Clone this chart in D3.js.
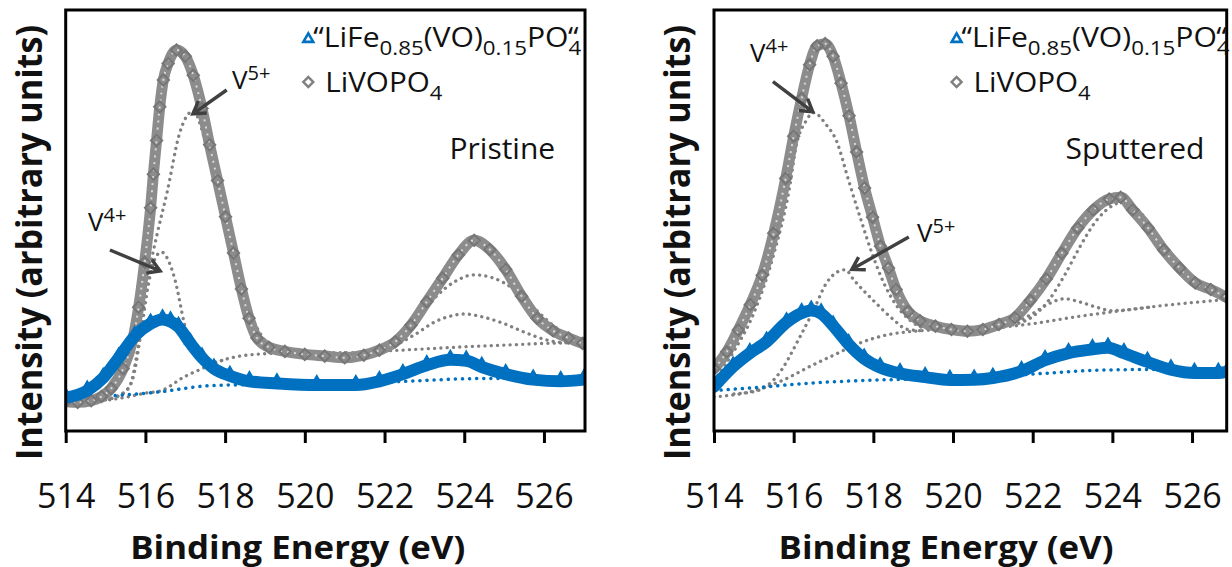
<!DOCTYPE html>
<html><head><meta charset="utf-8">
<script src="https://cdn.jsdelivr.net/npm/d3@7"></script>
<style>
body{margin:0;background:#fff}
svg{display:block}
text{font-family:"Open Sans","Noto Sans",sans-serif;fill:#111}
</style>
</head><body>
<svg id="chart" width="1232" height="567"></svg>
<script>
// ---------- data (binding energy eV, intensity arbitrary units) ----------
const xTicks = [514, 516, 518, 520, 522, 524, 526];
const xTitle = "Binding Energy (eV)";
const yTitle = "Intensity (arbitrary units)";

// Pristine panel
const pristineLiVOPO4 = [[514.0,7.0],[514.3,6.8],[514.64,7.2],[514.9,8.2],[515.14,10.1],[515.44,14.8],[515.68,21.6],[515.83,29.4],[515.98,40],[516.13,53],[516.2,61],[516.28,69],[516.36,77],[516.45,83.4],[516.57,87.3],[516.78,90.5],[517.0,89],[517.2,84.5],[517.42,76.6],[517.61,68.0],[517.81,59.5],[518.01,50.9],[518.21,42.3],[518.41,33.7],[518.6,26.8],[518.8,22.1],[519.1,19.9],[519.5,18.9],[520.0,18.2],[520.5,17.8],[521.0,17.4],[521.48,18.0],[521.87,19.2],[522.27,21.2],[522.66,25.1],[523.06,30.7],[523.46,36.3],[523.85,41.8],[524.25,45.3],[524.64,43.1],[525.04,38.4],[525.44,32.0],[525.83,26.8],[526.23,23.8],[526.62,22.1],[526.97,20.8]];
const pristineLiFeVO = [[514.0,7.9],[514.54,9.6],[514.94,12.6],[515.33,17.4],[515.73,22.5],[516.13,25.5],[516.43,26.5],[516.63,26.0],[516.83,24.7],[517.13,20.8],[517.42,17.4],[517.72,14.8],[518.12,13.1],[518.61,11.8],[519.3,11.3],[520.3,10.9],[521.28,10.9],[521.87,11.8],[522.46,13.5],[523.06,15.6],[523.65,16.9],[524.05,16.7],[524.44,15.2],[525.04,13.5],[525.73,12.2],[526.42,11.8],[527.0,12.2]];
const pristineBgGrey = [[514.0,7.0],[514.3,6.7],[515.0,7.3],[515.5,8.0],[516.0,9.0],[516.37,9.5],[517.0,13.0],[517.37,14.6],[518.0,17.0],[518.9,18.3],[520.0,18.6],[521.1,18.6],[522.0,19.0],[523.0,19.5],[524.0,20.0],[525.0,20.4],[526.0,20.8],[527.0,21.0]];
const pristineBgBlue = [[514.0,7.3],[515.1,8.3],[516.37,9.3],[517.5,10.7],[518.5,11.0],[520.0,11.2],[522.0,11.6],[523.0,12.0],[524.0,12.4],[525.0,12.5],[527.0,12.6]];
const pristineV4 = [[515.0,7.4],[515.5,9.5],[515.7,13],[515.9,24],[516.06,34],[516.2,40],[516.4,42.5],[516.6,40],[516.74,36],[516.99,25],[517.2,19],[517.5,16],[518.0,17.0]];
const pristineV5 = [[515.0,7.5],[515.3,8.2],[515.6,10.5],[515.85,22],[516.06,36],[516.3,47],[516.54,56.5],[516.86,70.8],[517.2,76],[517.5,69],[517.8,59],[518.1,47],[518.4,34],[518.7,26.5],[519.0,21.5],[519.4,19.2],[520.0,18.6]];
const pristine2pA = [[521.5,18.8],[522.27,20.6],[522.76,25.6],[523.26,31.6],[523.75,35.4],[524.25,37.1],[524.74,36.3],[525.24,33.7],[525.73,29.4],[526.23,25.1],[526.62,22.5],[526.97,21.2]];
const pristine2pB = [[521.5,18.8],[522.0,19.4],[522.76,22.9],[523.26,25.9],[523.75,27.5],[524.0,27.8],[524.5,27.0],[525.0,25.5],[525.5,23.5],[526.0,21.8],[526.5,21.0],[527.0,21.0]];

// Sputtered panel
const sputteredLiVOPO4 = [[514.0,14.8],[514.32,18.8],[514.61,24],[514.91,30],[515.21,37],[515.5,47],[515.8,60],[516.0,70],[516.2,79],[516.4,87],[516.59,91.5],[516.79,92],[516.99,89],[517.19,82.6],[517.39,74.9],[517.58,66.3],[517.78,57.7],[517.98,50.8],[518.18,43.9],[518.38,38.7],[518.57,33.6],[518.87,28.4],[519.17,26.2],[519.56,24.9],[519.96,24.1],[520.36,23.7],[520.75,24.1],[521.15,25.3],[521.55,26.9],[521.94,31.0],[522.34,36.1],[522.73,42.2],[523.13,48.2],[523.52,52.5],[523.92,55.1],[524.21,55.5],[524.51,52.5],[524.9,48.2],[525.29,43.0],[525.69,38.7],[526.08,35.2],[526.47,33.6],[526.86,31.8]];
const sputteredLiFeVO = [[514.0,10.5],[514.48,15.3],[514.9,18.5],[515.32,21.2],[515.82,25.8],[516.2,28.0],[516.44,28.6],[516.69,27.9],[516.99,25.0],[517.38,20.6],[517.77,17.2],[518.17,15.1],[518.67,13.7],[519.3,12.8],[519.92,12.1],[520.53,12.2],[521.0,12.6],[521.72,14.2],[522.31,16.8],[522.9,18.5],[523.5,19.4],[523.89,19.8],[524.29,18.5],[524.88,16.4],[525.47,14.6],[526.06,13.8],[526.66,13.8],[526.9,14.2]];
const sputteredBgGrey = [[514.0,8.1],[514.9,9.3],[515.74,12.1],[516.4,15.3],[517.0,18.0],[517.66,20.9],[518.33,22.8],[519.16,23.8],[520.2,24.2],[521.17,24.6],[522.0,25.5],[523.0,27.0],[524.0,28.3],[525.0,29.5],[526.0,30.5],[527.0,31.3]];
const sputteredBgBlue = [[514.0,9.6],[515.3,10.5],[516.15,11.2],[518.08,12.1],[520.0,12.5],[522.3,13.7],[523.5,14.4],[524.8,14.6],[526.0,14.4],[527.0,14.3]];
const sputteredV4 = [[514.0,12],[514.5,19],[515.0,28],[515.5,42],[515.9,58],[516.07,68],[516.3,73.5],[516.5,75.6],[516.82,72.7],[517.07,69],[517.38,59.5],[517.67,50.7],[517.97,42.1],[518.26,35.2],[518.56,30.1],[518.96,26],[519.35,24.3],[520.0,24.0]];
const sputteredV5 = [[514.5,8.8],[515.07,9.5],[515.57,12.9],[516.16,22.4],[516.5,28.7],[516.82,35.1],[517.1,37.8],[517.3,38.3],[517.5,36],[518.0,31],[518.5,26.5],[518.83,24.2],[519.2,23.8]];
const sputtered2pA = [[521.5,25.2],[522.0,27.2],[522.4,31],[522.8,37],[523.2,44],[523.6,50],[524.0,53.5],[524.3,54.5],[524.7,52],[525.1,46.5],[525.5,41.5],[526.0,36.5],[526.5,33.5],[527.0,32]];
const sputtered2pB = [[521.0,24.5],[521.6,25.9],[522.0,27.9],[522.4,30.2],[522.8,31.4],[523.2,30.6],[523.6,29.4],[524.0,28.6],[524.5,28.9],[525.0,29.5]];

// ---------- styles / layout ----------
const GREY = "#808080", BLUE = "#0070c0", ARROW = "#404040";
const TOP = 10, BOTTOM = 431;

const panels = [
  { left: 65.7, right: 585, xMax: 527.03, label: "Pristine", labelX: 449.5,
    grey: pristineLiVOPO4, blue: pristineLiFeVO,
    greyDots: [pristineBgGrey, pristineV4, pristineV5, pristine2pA, pristine2pB],
    blueDots: [pristineBgBlue],
    notes: [
      { sup: "5+", tx: 232, ty: 88.6, from: [518.04, 81], to: [517.19, 75.3] },
      { sup: "4+", tx: 88, ty: 231, from: [515.11, 43], to: [516.37, 38] }
    ] },
  { left: 714, right: 1226.7, xMax: 526.87, label: "Sputtered", labelX: 1065.5,
    grey: sputteredLiVOPO4, blue: sputteredLiFeVO,
    greyDots: [sputteredBgGrey, sputteredV4, sputteredV5, sputtered2pA, sputtered2pB],
    blueDots: [sputteredBgBlue],
    notes: [
      { sup: "4+", tx: 750, ty: 61.7, from: [515.48, 83], to: [516.48, 75.8] },
      { sup: "5+", tx: 917, ty: 242, from: [518.89, 46.1], to: [517.46, 38.4] }
    ] }
];

const svg = d3.select("#chart");
const defs = svg.append("defs");

panels.forEach((p, i) => {
  const x = d3.scaleLinear().domain([514, p.xMax]).range([p.left, p.right]);
  const y = d3.scaleLinear().domain([0, 100]).range([BOTTOM, TOP]);
  const g = svg.append("g");
  const clipId = "clip" + i;
  defs.append("clipPath").attr("id", clipId).append("rect")
    .attr("x", p.left).attr("y", TOP).attr("width", p.right - p.left).attr("height", BOTTOM - TOP);

  const line = d3.line().x(d => x(d[0])).y(d => y(d[1])).curve(d3.curveMonotoneX);
  const plot = g.append("g").attr("clip-path", `url(#${clipId})`);

  // dotted fit components
  p.greyDots.forEach(s => plot.append("path").attr("d", line(s)).attr("fill", "none")
    .attr("stroke", GREY).attr("stroke-width", 3.3).attr("stroke-linecap", "round")
    .attr("stroke-dasharray", "0.1 6.2"));
  p.blueDots.forEach(s => plot.append("path").attr("d", line(s)).attr("fill", "none")
    .attr("stroke", BLUE).attr("stroke-width", 3.5).attr("stroke-linecap", "round")
    .attr("stroke-dasharray", "0.1 7"));

  // grey LiVOPO4 series: dense hollow diamonds
  plot.append("path").attr("d", line(p.grey)).attr("fill", "none")
    .attr("stroke", "#8c8c8c").attr("stroke-width", 11).attr("stroke-linejoin", "round").attr("stroke-linecap", "round");
  plot.append("path").attr("d", line(p.grey)).attr("fill", "none")
    .attr("stroke", "#d8d8d8").attr("stroke-width", 2).attr("stroke-dasharray", "2 5");
  const diamond = d3.symbol().type(d3.symbolSquare).size(64);
  plot.selectAll(null).data(p.grey).join("path")
    .attr("d", diamond()).attr("transform", d => `translate(${x(d[0])},${y(d[1])}) rotate(45)`)
    .attr("fill", "none").attr("stroke", "#767676").attr("stroke-width", 2);

  // blue series: dense hollow triangles
  plot.append("path").attr("d", line(p.blue)).attr("fill", "none")
    .attr("stroke", BLUE).attr("stroke-width", 12).attr("stroke-linejoin", "round").attr("stroke-linecap", "round");
  const tri = d3.symbol().type(d3.symbolTriangle).size(50);
  plot.selectAll(null).data(p.blue).join("path")
    .attr("d", tri()).attr("transform", d => `translate(${x(d[0])},${y(d[1]) - 3})`)
    .attr("fill", BLUE).attr("stroke", BLUE).attr("stroke-width", 2);

  // frame
  g.append("rect").attr("x", p.left).attr("y", TOP).attr("width", p.right - p.left).attr("height", BOTTOM - TOP)
    .attr("fill", "none").attr("stroke", "#000").attr("stroke-width", 3);

  // x axis ticks & labels via d3 axis
  const ax = g.append("g").attr("transform", `translate(0,${BOTTOM})`)
    .call(d3.axisBottom(x).tickValues(xTicks).tickSize(12).tickPadding(38).tickFormat(d3.format("d")));
  ax.select(".domain").remove();
  ax.selectAll(".tick line").attr("stroke", "#000").attr("stroke-width", 3);
  ax.selectAll(".tick text").attr("font-size", 34).attr("fill", "#111")
    .attr("font-family", "'Open Sans', sans-serif").attr("dy", 0).attr("y", 76.7);

  // axis titles
  g.append("text").attr("x", (p.left + 232)).attr("y", 559)
    .attr("text-anchor", "middle").attr("font-weight", 700).attr("font-size", 32)
    .attr("textLength", 335).attr("lengthAdjust", "spacingAndGlyphs").text(xTitle);
  g.append("text").attr("transform", `translate(${p.left - 24},242.5) rotate(-90)`)
    .attr("text-anchor", "middle").attr("font-weight", 700).attr("font-size", 36)
    .attr("textLength", 435).attr("lengthAdjust", "spacingAndGlyphs").text(yTitle);

  // panel label
  g.append("text").attr("x", p.labelX).attr("y", 159).attr("font-size", 30).text(p.label);

  // annotations
  p.notes.forEach(n => {
    const t = g.append("text").attr("x", n.tx).attr("y", n.ty).attr("font-size", 26);
    t.append("tspan").text("V");
    t.append("tspan").attr("font-size", 20).attr("dy", -9).text(n.sup);
    const x1 = x(n.from[0]), y1 = y(n.from[1]), x2 = x(n.to[0]), y2 = y(n.to[1]);
    const ang = Math.atan2(y2 - y1, x2 - x1), L = 14, a = 0.55;
    g.append("path")
      .attr("d", `M${x1},${y1}L${x2},${y2}M${x2 - L * Math.cos(ang - a)},${y2 - L * Math.sin(ang - a)}L${x2},${y2}L${x2 - L * Math.cos(ang + a)},${y2 - L * Math.sin(ang + a)}`)
      .attr("fill", "none").attr("stroke", ARROW).attr("stroke-width", 3.4).attr("stroke-linejoin", "miter");
  });

  // legend
  const lx = p.left + 242.6;
  g.append("path").attr("d", d3.symbol().type(d3.symbolTriangle).size(42)())
    .attr("transform", `translate(${lx},${39})`).attr("fill", "#fff").attr("stroke", BLUE).attr("stroke-width", 2.6);
  g.append("path").attr("d", d3.symbol().type(d3.symbolSquare).size(50)())
    .attr("transform", `translate(${lx},${82}) rotate(45)`).attr("fill", "#fff").attr("stroke", GREY).attr("stroke-width", 2.4);
  const t1 = g.append("text").attr("x", lx + 5).attr("y", 46.7).attr("font-size", 27)
    .attr("textLength", 268).attr("lengthAdjust", "spacingAndGlyphs");
  t1.append("tspan").text("\u201CLiFe");
  t1.append("tspan").attr("font-size", 20).attr("dy", 8).text("0.85");
  t1.append("tspan").attr("dy", -8).text("(VO)");
  t1.append("tspan").attr("font-size", 20).attr("dy", 8).text("0.15");
  t1.append("tspan").attr("dy", -8).text("PO");
  t1.append("tspan").attr("font-size", 20).attr("dy", 8).text("4");
  t1.append("tspan").attr("dy", -8).attr("dx", -12).text("\u201C");
  const t2 = g.append("text").attr("x", lx + 17).attr("y", 91.7).attr("font-size", 27)
    .attr("textLength", 117).attr("lengthAdjust", "spacingAndGlyphs");
  t2.append("tspan").text("LiVOPO");
  t2.append("tspan").attr("font-size", 20).attr("dy", 8).text("4");
});
</script>
</body></html>
